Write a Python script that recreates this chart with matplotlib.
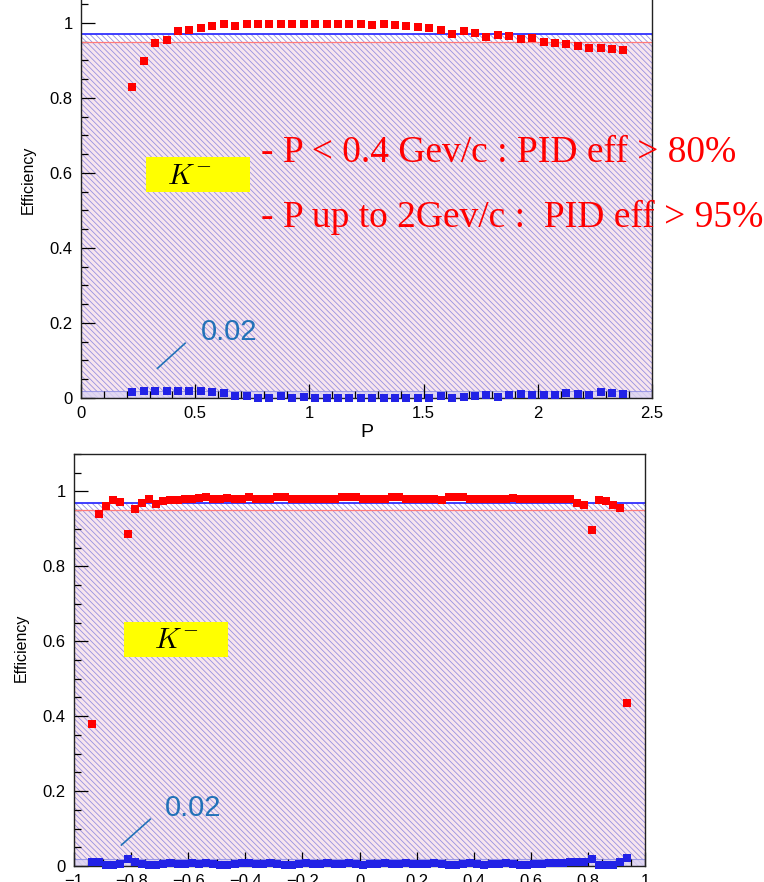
import numpy as np
import matplotlib
matplotlib.use("Agg")
import matplotlib.pyplot as plt
from matplotlib.patches import Rectangle
from matplotlib.ticker import MultipleLocator, FuncFormatter

plt.rcParams['font.family'] = ['Liberation Sans', 'DejaVu Sans']
plt.rcParams['hatch.linewidth'] = 0.6

# momentum bins (GeV/c), width 0.05
p_centers = np.round(np.arange(0.225, 2.4, 0.05), 3)
p_eff = [0.828, 0.898, 0.947, 0.955, 0.979, 0.981, 0.987, 0.992, 0.998, 0.992,
         0.998, 0.996, 0.996, 0.996, 0.996, 0.996, 0.996, 0.998, 0.996, 0.996,
         0.996, 0.994, 0.996, 0.994, 0.991, 0.988, 0.987, 0.982, 0.971, 0.978,
         0.972, 0.963, 0.968, 0.965, 0.956, 0.960, 0.950, 0.946, 0.943, 0.939,
         0.932, 0.934, 0.931, 0.928]
p_misid = [0.015, 0.019, 0.019, 0.019, 0.019, 0.019, 0.019, 0.015, 0.013, 0.006,
           0.006, 0.001, 0.001, 0.006, 0.001, 0.003, 0.001, 0.0, 0.001, 0.001,
           0.001, 0.001, 0.001, 0.001, 0.001, 0.001, 0.001, 0.004, 0.001, 0.003,
           0.004, 0.008, 0.003, 0.008, 0.011, 0.008, 0.008, 0.008, 0.013, 0.011,
           0.008, 0.017, 0.013, 0.010]

# cos(theta) bins, width 0.025
c_centers = np.round(np.arange(-0.9375, 0.95, 0.025), 4)
c_eff = [0.378, 0.940, 0.961, 0.977, 0.972, 0.887, 0.954, 0.969, 0.979, 0.967,
         0.974, 0.976, 0.977, 0.979, 0.979, 0.983, 0.985, 0.981, 0.979, 0.983,
         0.979, 0.981, 0.985, 0.981, 0.979,
         0.979, 0.985, 0.985, 0.979, 0.981, 0.981, 0.981, 0.979, 0.979, 0.979,
         0.985, 0.985, 0.985, 0.979, 0.979, 0.979, 0.981, 0.985, 0.985, 0.979,
         0.979, 0.979, 0.981, 0.981, 0.976, 0.985,
         0.985, 0.985, 0.981, 0.981, 0.981, 0.981, 0.981, 0.981, 0.983, 0.979,
         0.979, 0.979, 0.979, 0.981, 0.979, 0.979, 0.981, 0.970, 0.963, 0.898,
         0.976, 0.974, 0.965, 0.956, 0.435]
c_misid = [0.010, 0.010, 0.004, 0.003, 0.006, 0.018, 0.012, 0.006, 0.004, 0.004,
           0.006, 0.008, 0.006, 0.006, 0.008, 0.006, 0.008, 0.006, 0.004, 0.004,
           0.006, 0.008, 0.008, 0.006, 0.006, 0.008, 0.006, 0.004, 0.004, 0.006,
           0.008, 0.006, 0.006, 0.008, 0.006, 0.006, 0.008, 0.006, 0.004, 0.006,
           0.006, 0.008, 0.006, 0.006, 0.008, 0.006, 0.006, 0.006, 0.008, 0.006,
           0.004, 0.004, 0.006, 0.008, 0.006, 0.004, 0.006, 0.006, 0.008, 0.006,
           0.004, 0.004, 0.006, 0.006, 0.008, 0.008, 0.008, 0.010, 0.010, 0.012,
           0.020, 0.003, 0.003, 0.003, 0.010, 0.022]

# reference levels (hatched bands)
blue_level = 0.97
red_level = 0.95
misid_level = 0.018

RED = '#ff0000'
BLUE = '#2222e6'
NOTE = '#2272b8'


def tick_fmt(v, _):
    v = round(v, 6)
    if v == 0:
        return '0'
    return f'{v:g}'.replace('-', '\u2212')


def draw_panel(ax, x, eff, misid, xlim, xmajor, xminor):
    ax.set_xlim(*xlim)
    ax.set_ylim(0, 1.1)
    ax.axhspan(0, red_level, facecolor='#f7e5ee', edgecolor='none', zorder=0)
    ax.axhspan(0, blue_level, facecolor='none', edgecolor='#9890e0',
               hatch='\\\\\\\\\\\\', linewidth=0, zorder=1)
    ax.axhspan(0, misid_level, facecolor='#dcd4f2', edgecolor='#8c8ce6',
               linewidth=0.8, alpha=0.8, zorder=1)
    ax.axhline(red_level, color='#ff7a7a', lw=0.9, zorder=2)
    ax.axhline(blue_level, color='#3030ff', lw=1.3, zorder=2)
    ax.plot(x, eff, 's', color=RED, ms=5.5, mew=0, zorder=4, clip_on=False)
    ax.plot(x, misid, 's', color=BLUE, ms=5.5, mew=0, zorder=4, clip_on=False)

    ax.xaxis.set_major_locator(MultipleLocator(xmajor))
    ax.xaxis.set_minor_locator(MultipleLocator(xminor))
    ax.yaxis.set_major_locator(MultipleLocator(0.2))
    ax.yaxis.set_minor_locator(MultipleLocator(0.05))
    ax.xaxis.set_major_formatter(FuncFormatter(tick_fmt))
    ax.yaxis.set_major_formatter(FuncFormatter(tick_fmt))
    ax.tick_params(which='both', direction='in', top=False, right=False,
                   labelsize=12, width=0.9)
    ax.tick_params(which='major', length=10, pad=6)
    ax.tick_params(which='minor', length=5)
    for s in ax.spines.values():
        s.set_linewidth(1.0)
        s.set_color('#222222')
    ax.set_ylabel('Efficiency', fontsize=11.5)
    ax.yaxis.set_label_coords(-0.08, 0.53)


fig = plt.figure(figsize=(7.64, 8.82), dpi=100)

ax1 = fig.add_axes([0.106, 0.5488, 0.7474, 0.4677])
draw_panel(ax1, p_centers, p_eff, p_misid, (0, 2.5), 0.5, 0.1)
ax1.set_xlabel('P', fontsize=14, labelpad=2)

ax1.add_patch(Rectangle((0.285, 0.549), 0.455, 0.094, facecolor='#ffff00',
                        edgecolor='none', zorder=5))
ax1.text(0.474, 0.592, r'$K^{-}$', fontsize=21, ha='center', va='center',
         math_fontfamily='cm', zorder=6)
ax1.text(0.79, 0.655, '- P < 0.4 Gev/c : PID eff > 80%', color=RED,
         fontsize=27, family=['Liberation Serif'], va='center', zorder=6)
ax1.text(0.79, 0.482, '- P up to 2Gev/c :  PID eff > 95%', color=RED,
         fontsize=27, family=['Liberation Serif'], va='center', zorder=6)
ax1.text(0.525, 0.175, '0.02', color=NOTE, fontsize=21, va='center', zorder=6)
ax1.plot([0.335, 0.456], [0.079, 0.146], color=NOTE, lw=1.2, zorder=6)

ax2 = fig.add_axes([0.0969, 0.01814, 0.7474, 0.4671])
draw_panel(ax2, c_centers, c_eff, c_misid, (-1, 1), 0.2, 0.05)

ax2.add_patch(Rectangle((-0.825, 0.557), 0.364, 0.094, facecolor='#ffff00',
                        edgecolor='none', zorder=5))
ax2.text(-0.643, 0.603, r'$K^{-}$', fontsize=21, ha='center', va='center',
         math_fontfamily='cm', zorder=6)
ax2.text(-0.681, 0.155, '0.02', color=NOTE, fontsize=21, va='center', zorder=6)
ax2.plot([-0.834, -0.733], [0.056, 0.125], color=NOTE, lw=1.2, zorder=6)

fig.savefig('out.png', dpi=100)
